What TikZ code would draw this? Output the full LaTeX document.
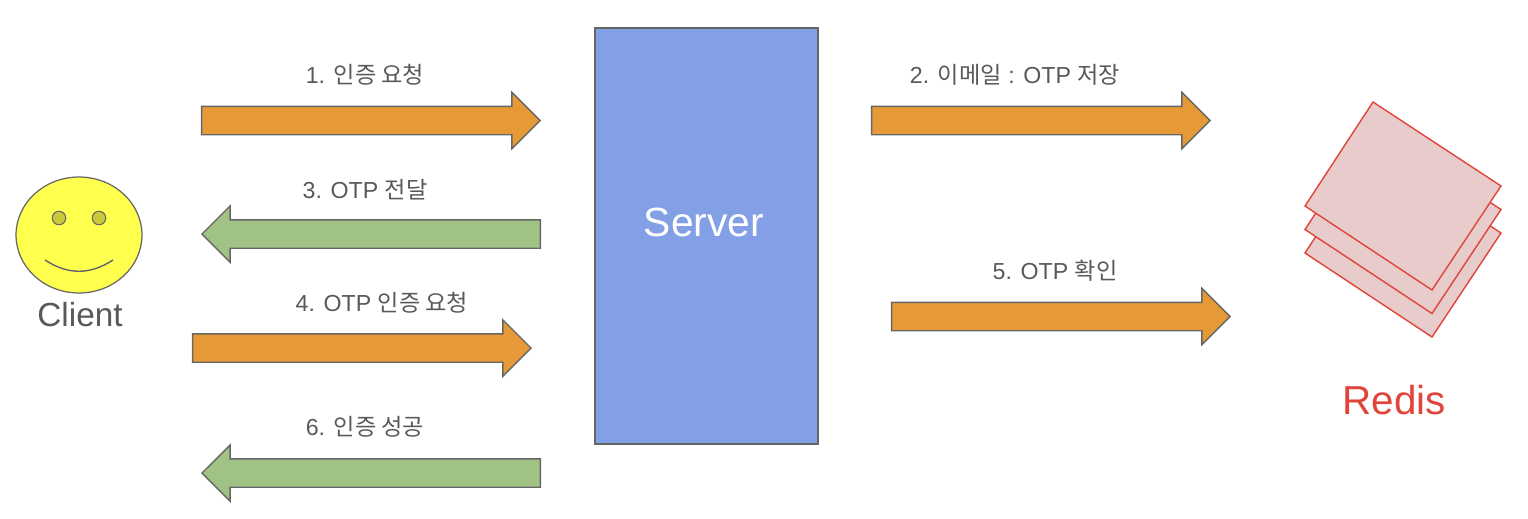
\documentclass[tikz,border=0pt]{standalone}
\usepackage{fontspec}
\setmainfont{Liberation Sans}
\newfontfamily\kofont{Noto Sans CJK KR}
\usetikzlibrary{shapes.arrows}
\definecolor{serverblue}{HTML}{839FE6}
\definecolor{reqorange}{HTML}{E59A37}
\definecolor{resgreen}{HTML}{A0C285}
\definecolor{faceyellow}{HTML}{FFFF4D}
\definecolor{eyeolive}{HTML}{C9C93A}
\definecolor{sheetpink}{HTML}{E8CCCC}
\definecolor{redisred}{HTML}{E0443A}
\definecolor{edgegray}{HTML}{666666}
\definecolor{labelgray}{HTML}{595959}
\tikzset{
  blockarrow/.style={single arrow, draw=edgegray, line width=0.8pt, inner xsep=0pt, inner ysep=0.27cm, single arrow tip angle=90, single arrow head extend=0.28cm, minimum width=1.12cm, minimum height=6.77cm, anchor=tip},
  reqarrow/.style={blockarrow, fill=reqorange},
  resarrow/.style={blockarrow, fill=resgreen, shape border rotate=180},
  msglabel/.style={text=labelgray, font=\fontsize{13.2pt}{16pt}\selectfont},
  sheet/.style={fill=sheetpink, draw=redisred, line width=0.8pt, line join=miter}
}
\begin{document}
\begin{tikzpicture}[x=0.02cm,y=-0.02cm]
\useasboundingbox (0,0) rectangle (1528,518);
% client
\node[circle, draw=edgegray, fill=faceyellow, line width=0.7pt, inner sep=0pt, minimum size=2.32cm, xscale=1.086] (face) at (79,235) {};
\node[circle, draw=edgegray, fill=eyeolive, line width=0.6pt, inner sep=0pt, minimum size=0.27cm] (lefteye) at (59,218) {};
\node[circle, draw=edgegray, fill=eyeolive, line width=0.6pt, inner sep=0pt, minimum size=0.27cm] (righteye) at (99,218) {};
\draw[edgegray, line width=0.8pt] (45,260) .. controls (68,275) and (90,275) .. (113,260);
\node[text=labelgray, font=\fontsize{19pt}{23pt}\selectfont] (client) at (80,315) {Client};
% server
\node[draw=edgegray, fill=serverblue, line width=0.8pt, minimum width=4.46cm, minimum height=8.32cm] (server) at (706.5,236) {};
\node[text=white, font=\fontsize{23.2pt}{28pt}\selectfont] (servername) at (704,222) {Server};
% redis
\foreach \dy in {47,23.5,0}
  \draw[sheet, yshift=-\dy*0.02cm] (1373,102) -- (1501,186) -- (1432,290) -- (1305,206) -- cycle;
\node[text=redisred, font=\fontsize{23pt}{28pt}\selectfont] (redis) at (1394,400) {Redis};
% arrows
\node[reqarrow] (authreq) at (541,120.5) {};
\node[msglabel] (authreqlabel) at (365,75) {1. {\kofont 인증 요청}};
\node[reqarrow] (store) at (1211,120.5) {};
\node[msglabel] (storelabel) at (1015,75) {2. {\kofont 이메일} : OTP {\kofont 저장}};
\node[resarrow] (send) at (201,234) {};
\node[msglabel] (sendlabel) at (365,190) {3. OTP {\kofont 전달}};
\node[reqarrow] (otpreq) at (532,348) {};
\node[msglabel] (otpreqlabel) at (382,303) {4. OTP {\kofont 인증 요청}};
\node[reqarrow] (check) at (1231,316.5) {};
\node[msglabel] (checklabel) at (1055,271) {5. OTP {\kofont 확인}};
\node[resarrow] (done) at (201,473) {};
\node[msglabel] (donelabel) at (365,427) {6. {\kofont 인증 성공}};
\end{tikzpicture}
\end{document}
